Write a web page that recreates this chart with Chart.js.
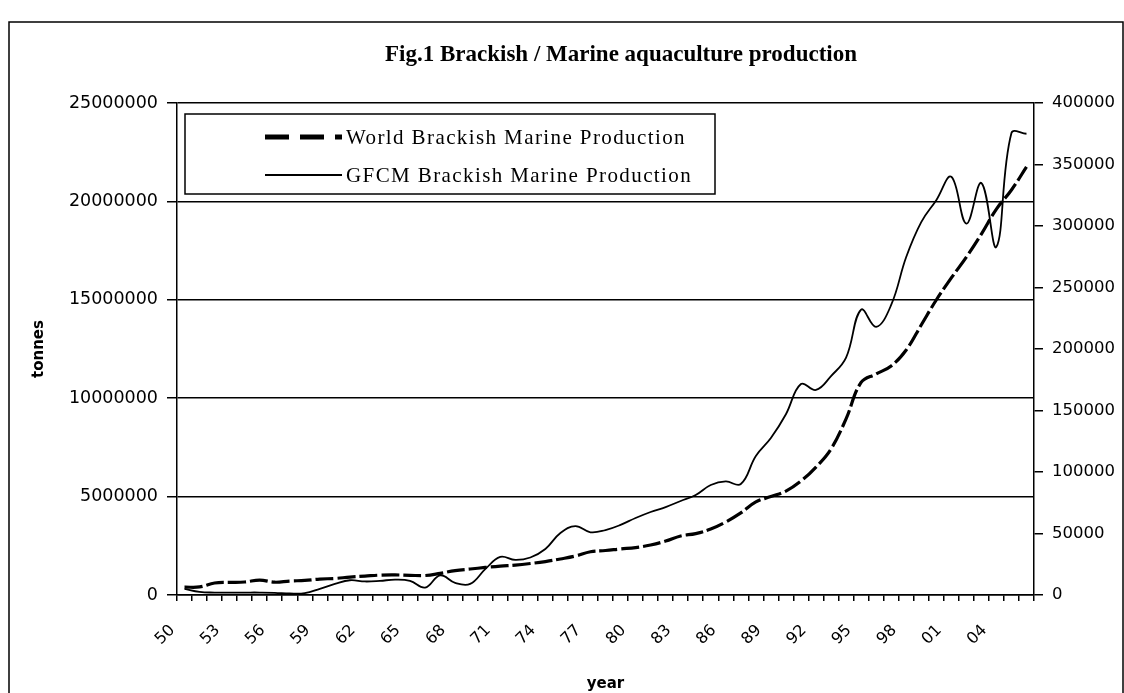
<!DOCTYPE html>
<html>
<head>
<meta charset="utf-8">
<script src="https://cdn.jsdelivr.net/npm/chart.js@4.4.0/dist/chart.umd.min.js"></script>
<style>
  html, body { margin: 0; padding: 0; background: #fff; }
</style>
</head>
<body>
<canvas id="aquaChart" width="1124" height="693"></canvas>
<script>
// years 1950-2006, shown as two digits
const years = ['50','51','52','53','54','55','56','57','58','59',
               '60','61','62','63','64','65','66','67','68','69',
               '70','71','72','73','74','75','76','77','78','79',
               '80','81','82','83','84','85','86','87','88','89',
               '90','91','92','93','94','95','96','97','98','99',
               '00','01','02','03','04','05','06'];

// tonnes, left axis
const worldProduction = [400000, 410000, 610000, 640000, 660000, 760000, 650000, 710000, 740000, 810000,
                         840000, 910000, 960000, 1010000, 1020000, 1000000, 990000, 1100000, 1240000, 1320000,
                         1400000, 1470000, 1520000, 1600000, 1700000, 1830000, 1980000, 2200000, 2260000, 2340000,
                         2410000, 2540000, 2740000, 3000000, 3120000, 3350000, 3710000, 4170000, 4730000, 5000000,
                         5280000, 5790000, 6500000, 7420000, 8950000, 10800000, 11230000, 11640000, 12450000, 13720000,
                         14990000, 16110000, 17170000, 18340000, 19610000, 20580000, 21750000];

// tonnes, right axis
const gfcmProduction = [5000, 2500, 2000, 2000, 2000, 2000, 1800, 1200, 1500, 5000,
                        9000, 12000, 11000, 11500, 12500, 11500, 6000, 16000, 9800, 9000,
                        21000, 31000, 28500, 30500, 37400, 50400, 56000, 51000, 52800, 57000,
                        62600, 67500, 71500, 76400, 81300, 89400, 92300, 90200, 113000, 127600,
                        147000, 171500, 166700, 178000, 193000, 232000, 218000, 235800, 274800, 303200,
                        321000, 340000, 302000, 335000, 283000, 375600, 375000];

const tickFont = { family: 'DejaVu Sans', size: 17.5 };
const xTickFont = { family: 'DejaVu Sans', size: 16 };
const axisTitleFont = { family: 'DejaVu Sans', size: 15, weight: 'bold' };

// frame, title and the boxed legend inside the plot
const chartDecor = {
    id: 'chartDecor',
    beforeDraw(chart) {
        const ctx = chart.ctx;
        ctx.save();
        ctx.fillStyle = '#fff';
        ctx.fillRect(0, 0, chart.width, chart.height);
        ctx.strokeStyle = '#000';
        ctx.lineWidth = 1.5;
        ctx.strokeRect(9, 22, 1114, 700);
        ctx.restore();
    },
    afterDraw(chart) {
        const ctx = chart.ctx;
        ctx.save();
        ctx.fillStyle = '#000';
        ctx.textAlign = 'center';
        ctx.textBaseline = 'middle';
        ctx.font = 'bold 23px "Liberation Serif"';
        ctx.fillText('Fig.1 Brackish / Marine aquaculture production', 621, 55);

        // legend
        const sets = chart.data.datasets;
        ctx.font = '21px "Liberation Serif"';
        ctx.letterSpacing = '1.4px';
        ctx.textAlign = 'left';
        const boxL = 185, boxT = 114, boxB = 194, boxR = 715;
        ctx.fillStyle = '#fff';
        ctx.fillRect(boxL, boxT, boxR - boxL, boxB - boxT);
        ctx.strokeStyle = '#000';
        ctx.lineWidth = 1.5;
        ctx.strokeRect(boxL, boxT, boxR - boxL, boxB - boxT);

        const rows = [137, 175];
        sets.forEach((ds, i) => {
            ctx.beginPath();
            ctx.lineWidth = i === 0 ? 5 : 2;
            ctx.setLineDash(i === 0 ? [24, 11] : []);
            ctx.moveTo(265, rows[i]);
            ctx.lineTo(342, rows[i]);
            ctx.stroke();
            ctx.setLineDash([]);
            ctx.fillStyle = '#000';
            ctx.fillText(ds.label, 346, rows[i] + 1);
        });
        ctx.restore();
    }
};

const ctx = document.getElementById('aquaChart').getContext('2d');
new Chart(ctx, {
    type: 'line',
    data: {
        labels: years,
        datasets: [{
            label: 'World Brackish Marine Production',
            data: worldProduction,
            yAxisID: 'y',
            borderColor: '#000',
            borderWidth: 3.2,
            borderDash: [18, 4],
            pointRadius: 0,
            tension: 0.4,
            fill: false
        }, {
            label: 'GFCM Brackish Marine Production',
            data: gfcmProduction,
            yAxisID: 'y1',
            borderColor: '#000',
            borderWidth: 1.8,
            pointRadius: 0,
            tension: 0.4,
            fill: false
        }]
    },
    options: {
        responsive: false,
        animation: false,
        layout: {
            padding: { top: 103, left: 0, right: 0, bottom: 0 }
        },
        plugins: {
            legend: { display: false },
            tooltip: { enabled: false }
        },
        scales: {
            x: {
                offset: true,
                grid: { offset: true, drawOnChartArea: false, color: '#000', lineWidth: 1.5, tickLength: 6 },
                border: { color: '#000', width: 1.5 },
                ticks: {
                    autoSkip: false,
                    minRotation: 45,
                    maxRotation: 45,
                    color: '#000',
                    font: xTickFont,
                    padding: 20,
                    labelOffset: -12,
                    callback: function(value, index) {
                        return index % 3 === 0 ? this.getLabelForValue(value) : '';
                    }
                },
                title: { display: true, text: 'year', color: '#000', font: axisTitleFont, padding: { top: 0, bottom: 0 } },
                afterFit: (scale) => { scale.height = 98; }
            },
            y: {
                position: 'left',
                min: 0,
                max: 25000000,
                grid: { color: '#000', lineWidth: 1.5, tickLength: 10 },
                border: { color: '#000', width: 1.5 },
                ticks: {
                    stepSize: 5000000,
                    color: '#000',
                    font: tickFont,
                    padding: 9,
                    callback: (value) => String(value)
                },
                title: { display: true, text: 'tonnes', color: '#000', font: axisTitleFont, padding: { top: 30, bottom: 0 } },
                afterFit: (scale) => { scale.width = 177; }
            },
            y1: {
                position: 'right',
                min: 0,
                max: 400000,
                grid: { drawOnChartArea: false, color: '#000', lineWidth: 1.5, tickLength: 9 },
                border: { color: '#000', width: 1.5 },
                ticks: {
                    stepSize: 50000,
                    color: '#000',
                    font: { family: 'DejaVu Sans', size: 16.5 },
                    padding: 9,
                    callback: (value) => String(value)
                },
                afterFit: (scale) => { scale.width = 90; }
            }
        }
    },
    plugins: [chartDecor]
});
</script>
</body>
</html>
